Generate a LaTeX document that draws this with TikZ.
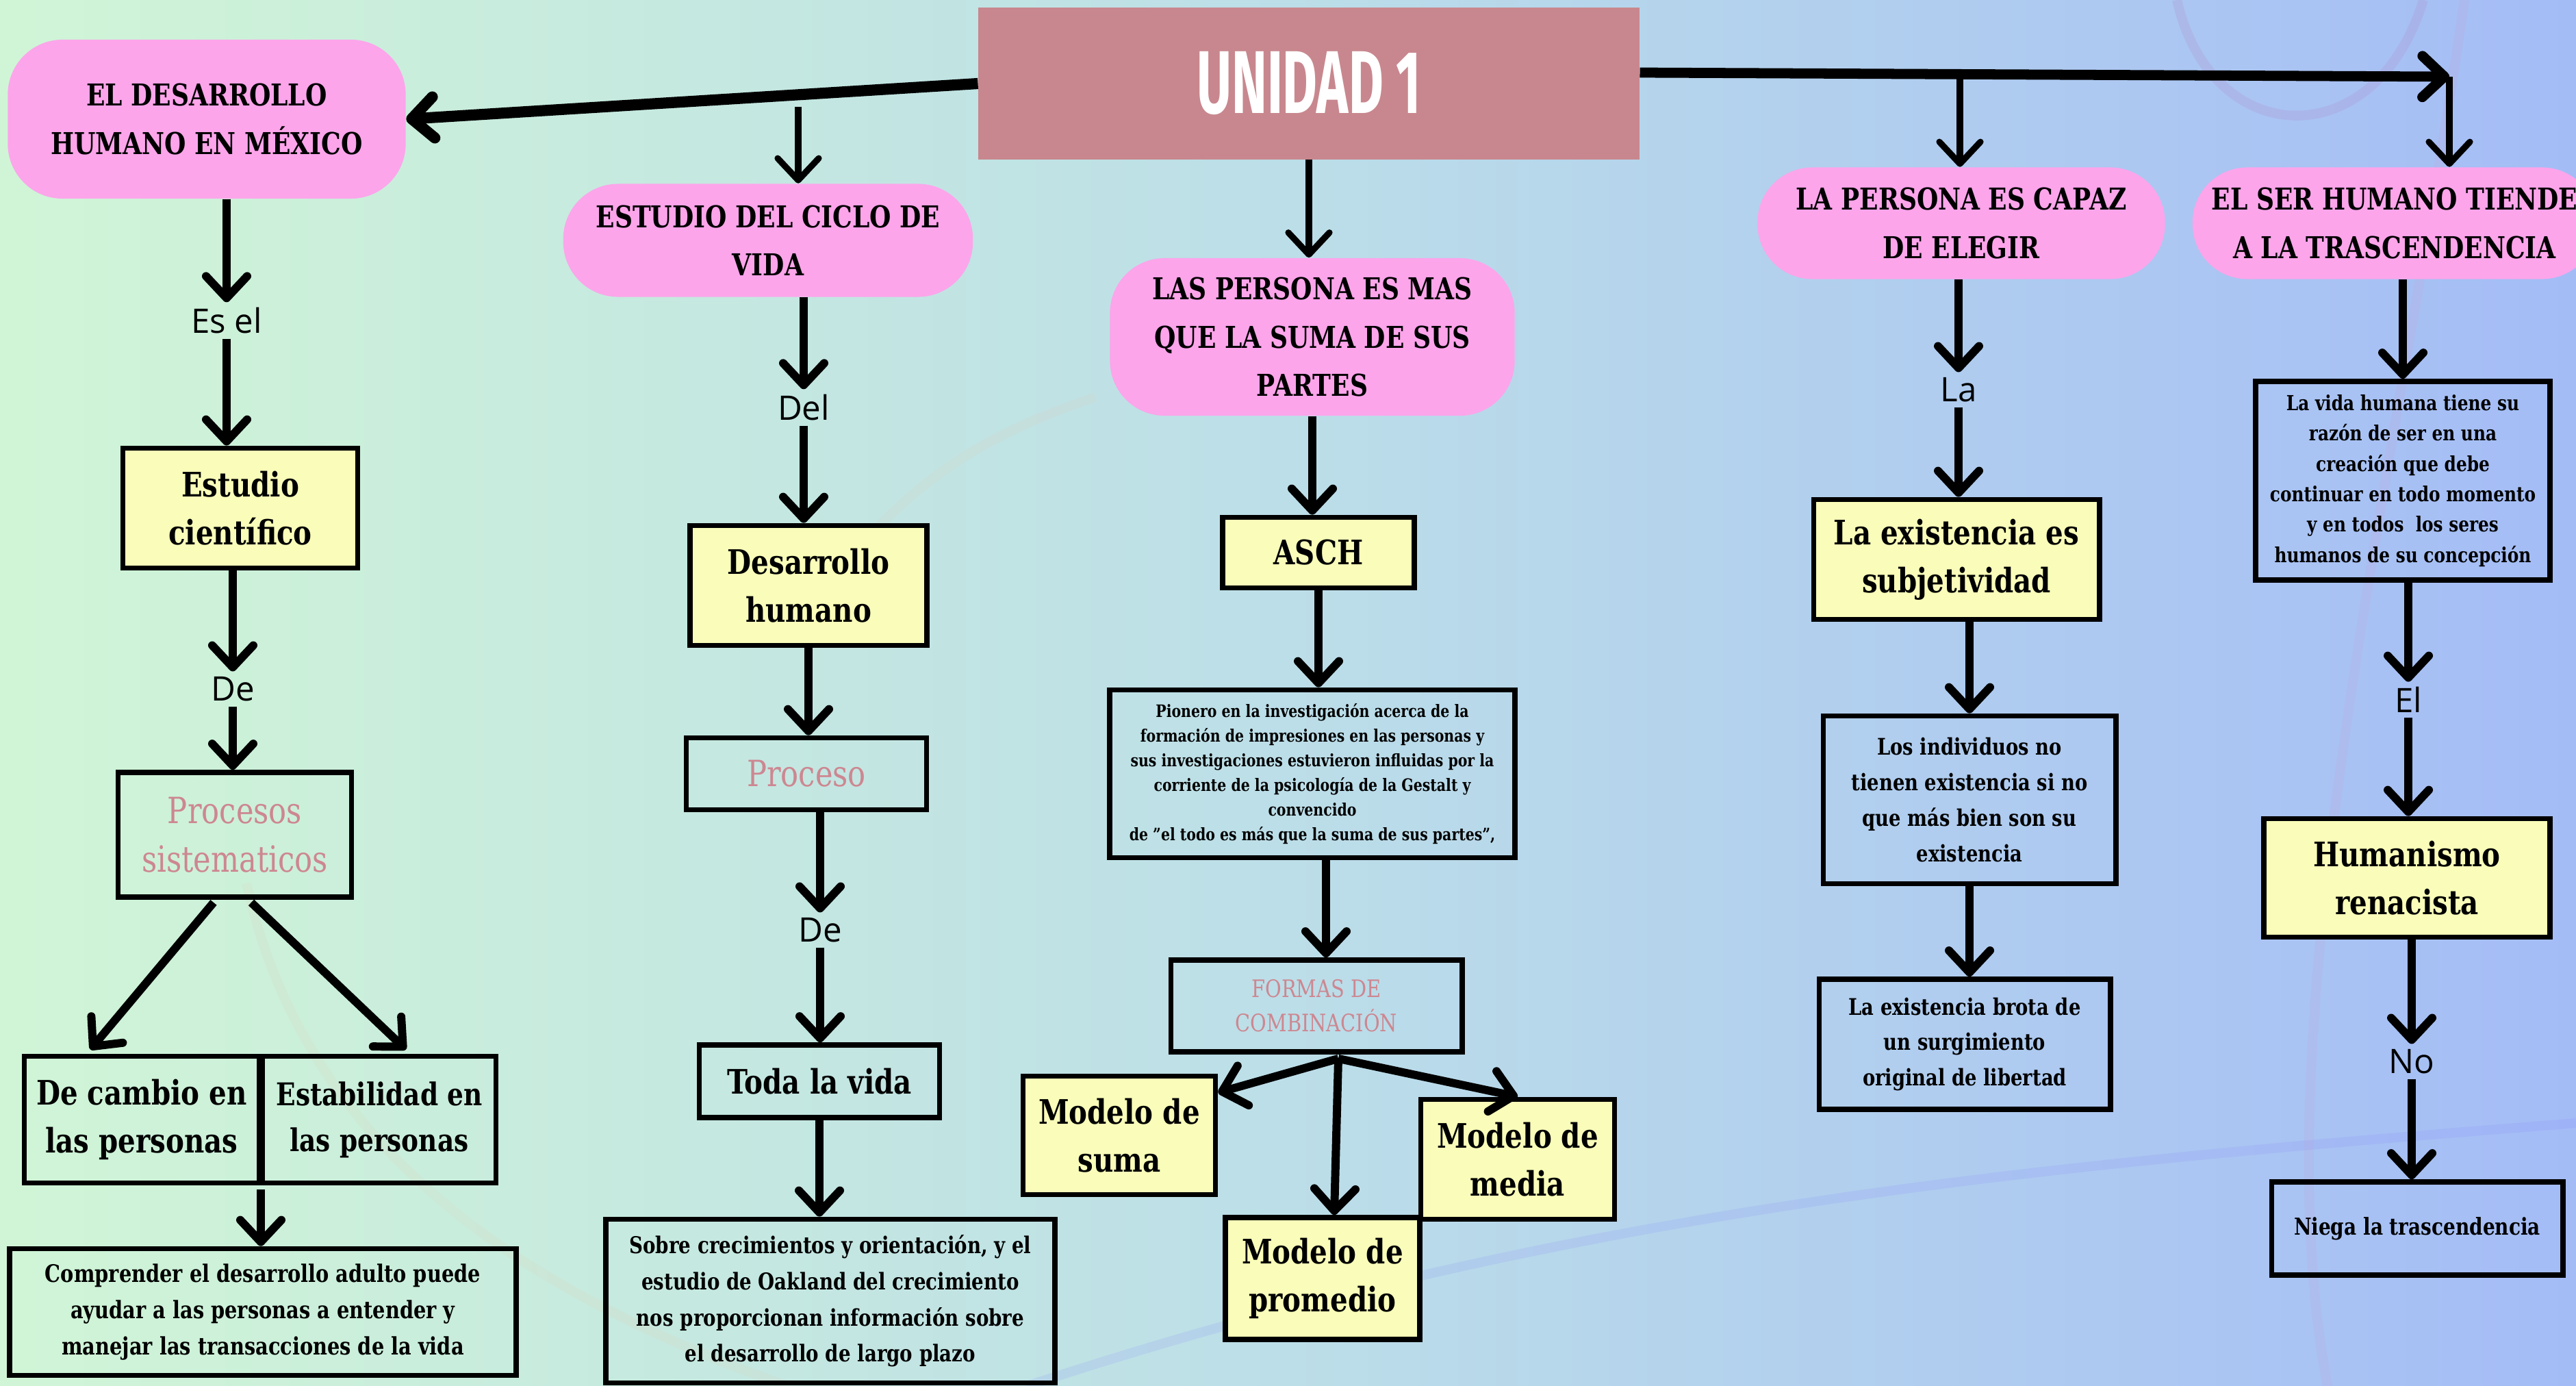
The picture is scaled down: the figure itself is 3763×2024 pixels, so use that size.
\documentclass[tikz,border=0pt]{standalone}
\usepackage{fontspec}
\setmainfont{DejaVu Serif}[FakeStretch=0.82]
\newfontfamily\labelfont{Open Sans}
\newfontfamily\titlefont{Fira Sans}[FakeStretch=0.6]
\usetikzlibrary{arrows.meta,calc}

\definecolor{bgleft}{RGB}{208,245,214}
\definecolor{bgmid}{RGB}{188,222,232}
\definecolor{bgright}{RGB}{164,188,246}
\definecolor{pillpink}{RGB}{252,165,235}
\definecolor{unidadrose}{RGB}{200,135,142}
\definecolor{boxyellow}{RGB}{249,253,185}
\definecolor{rosetext}{RGB}{205,135,145}

\tikzset{
    pill/.style={fill=pillpink, rounded corners=0.8cm, align=center, inner sep=0pt,
        font=\bfseries\fontsize{12.5}{20}\selectfont},
    ybox/.style={draw=black, line width=2.2pt, fill=boxyellow, align=center, inner sep=0pt,
        font=\bfseries\fontsize{14}{20}\selectfont},
    tbox/.style={draw=black, line width=2.2pt, align=center, inner sep=0pt},
    lbl/.style={font=\labelfont\fontsize{14}{16}\selectfont, inner sep=2pt},
    arr/.style={line width=3.4pt, -{Straight Barb[length=3.2mm,width=6mm,round]}},
    deco/.style={line width=4pt, opacity=0.14}
}

\begin{document}
\begin{tikzpicture}[x=0.01cm,y=-0.01cm]
            \useasboundingbox (0,0) rectangle (3763,2024);
            \clip (0,0) rectangle (3763,2024);
            % Background
            \shade[left color=bgleft, right color=bgmid] (0,0) rectangle (1880,2024);
            \shade[left color=bgmid, right color=bgright] (1880,0) rectangle (3763,2024);
            \draw[deco, brown!40] (360,1290) .. controls (450,1700) and (800,1900) .. (1150,2024);
            \draw[deco, brown!40] (1180,900) .. controls (1300,720) and (1420,640) .. (1600,580);
            \draw[deco, blue!50] (1500,2024) .. controls (2300,1760) and (3000,1700) .. (3763,1640);
            \draw[deco, violet!60] (3180,0) .. controls (3230,220) and (3470,230) .. (3540,0);
            \draw[deco, violet!40] (3600,0) .. controls (3500,700) and (3300,1500) .. (3400,2024);
            % Title
            \node[fill=unidadrose, minimum width=9.65cm, minimum height=2.21cm, text=white,
                font=\titlefont\bfseries\fontsize{37}{40}\selectfont] (unidad) at (1912,122) {UNIDAD 1};
            % Main topics
            \node[pill, minimum width=5.81cm, minimum height=2.32cm] (desmex) at (302,174) {EL DESARROLLO\\HUMANO EN MÉXICO};
            \node[pill, minimum width=5.98cm, minimum height=1.65cm] (ciclo) at (1122,351) {ESTUDIO DEL CICLO DE\\VIDA};
            \node[pill, minimum width=5.91cm, minimum height=2.30cm] (partes) at (1917,492) {LAS PERSONA ES MAS\\QUE LA SUMA DE SUS\\PARTES};
            \node[pill, minimum width=5.95cm, minimum height=1.63cm] (elegir) at (2865,326) {LA PERSONA ES CAPAZ\\DE ELEGIR};
            \node[pill, minimum width=5.90cm, minimum height=1.63cm] (trasc) at (3498,326) {EL SER HUMANO TIENDE\\A LA TRASCENDENCIA};
            % Arrows from the title
            \draw[arr, line width=4.6pt] (unidad.west) -- (desmex.east);
            \coordinate (brL) at (1166,156);
            \draw[arr, line width=2.6pt] (brL) -- (brL |- ciclo.north);
            \draw[arr, line width=2.6pt] (unidad.south) -- (unidad.south |- partes.north);
            \coordinate (tipR) at (3578,112);
            \draw[arr, line width=4.2pt] ($(unidad.east)+(0,-16)$) -- (tipR);
            \coordinate (brR) at (2863,106);
            \draw[arr, line width=2.6pt] (brR) -- (brR |- elegir.north);
            \draw[arr, line width=2.6pt] (tipR) -- (tipR |- trasc.north);
            % Desarrollo humano en Mexico
            \node[lbl] (esel) at (331,468) {Es el};
            \node[ybox, minimum width=3.43cm, minimum height=1.75cm] (cient) at (351,742) {Estudio\\científico};
            \node[lbl] (de1) at (340,1006) {De};
            \node[tbox, text=rosetext, minimum width=3.41cm, minimum height=1.82cm,
                font=\fontsize{15}{20}\selectfont] (procesos) at (343,1219) {Procesos\\sistematicos};
            \node[tbox, minimum width=3.43cm, minimum height=1.85cm,
                font=\bfseries\fontsize{14}{20}\selectfont] (cambio) at (207,1635) {De cambio en\\las personas};
            \node[tbox, minimum width=3.41cm, minimum height=1.85cm,
                font=\bfseries\fontsize{13}{19}\selectfont] (estab) at (554,1635) {Estabilidad en\\las personas};
            \node[tbox, minimum width=7.40cm, minimum height=1.85cm,
                font=\bfseries\fontsize{10}{15}\selectfont] (compr) at (384,1916) {Comprender el desarrollo adulto puede\\ayudar a las personas a entender y\\manejar las transacciones de la vida};
            \draw[arr] (esel.north |- desmex.south) -- (esel.north);
            \draw[arr] (esel.south) -- (esel.south |- cient.north);
            \draw[arr] (de1.north |- cient.south) -- (de1.north);
            \draw[arr] (de1.south) -- (de1.south |- procesos.north);
            \draw[arr] ($(procesos.south)+(-31,4)$) -- ($(cambio.north)+(-75,-6)$);
            \draw[arr] ($(procesos.south)+(24,4)$) -- ($(estab.north)+(39,-6)$);
            \coordinate (mid1) at ($(cambio.south east)!0.5!(estab.south west)+(0,6)$);
            \draw[arr] (mid1) -- (mid1 |- compr.north);
            % Ciclo de vida
            \node[lbl] (del) at (1174,595) {Del};
            \node[ybox, minimum width=3.46cm, minimum height=1.75cm] (deshum) at (1181,855) {Desarrollo\\humano};
            \node[tbox, text=rosetext, minimum width=3.51cm, minimum height=1.05cm,
                font=\fontsize{15}{20}\selectfont] (proceso) at (1178,1130) {Proceso};
            \node[lbl] (de2) at (1198,1358) {De};
            \node[tbox, minimum width=3.51cm, minimum height=1.06cm,
                font=\bfseries\fontsize{14}{20}\selectfont] (toda) at (1197,1579) {Toda la vida};
            \node[tbox, minimum width=6.55cm, minimum height=2.39cm,
                font=\bfseries\fontsize{9.6}{15}\selectfont] (sobre) at (1213,1900) {Sobre crecimientos y orientación, y el\\estudio de Oakland del crecimiento\\nos proporcionan información sobre\\el desarrollo de largo plazo};
            \draw[arr] (del.north |- ciclo.south) -- (del.north);
            \draw[arr] (del.south) -- (del.south |- deshum.north);
            \draw[arr] (deshum.south) -- (deshum.south |- proceso.north);
            \draw[arr] (de2.north |- proceso.south) -- (de2.north);
            \draw[arr] (de2.south) -- (de2.south |- toda.north);
            \draw[arr] (toda.south) -- (toda.south |- sobre.north);
            % Suma de sus partes
            \node[ybox, minimum width=2.80cm, minimum height=1.03cm] (asch) at (1926,807) {ASCH};
            \node[tbox, minimum width=5.91cm, minimum height=2.45cm,
                font=\bfseries\fontsize{7.1}{10.2}\selectfont] (pionero) at (1917,1130) {Pionero en la investigación acerca de la\\formación de impresiones en las personas y\\sus investigaciones estuvieron influidas por la\\corriente de la psicología de la Gestalt y\\convencido\\de "el todo es más que la suma de sus partes",};
            \node[tbox, text=rosetext, minimum width=4.25cm, minimum height=1.34cm,
                font=\fontsize{10}{14.3}\selectfont] (formas) at (1923,1469) {FORMAS DE\\COMBINACIÓN};
            \node[ybox, minimum width=2.81cm, minimum height=1.73cm] (msuma) at (1635,1658) {Modelo de\\suma};
            \node[ybox, minimum width=2.84cm, minimum height=1.78cm] (mprom) at (1932,1867) {Modelo de\\promedio};
            \node[ybox, minimum width=2.83cm, minimum height=1.75cm] (mmedia) at (2217,1693) {Modelo de\\media};
            \draw[arr] (partes.south) -- (partes.south |- asch.north);
            \draw[arr] (asch.south) -- (asch.south |- pionero.north);
            \draw[arr] ($(pionero.south)+(20,0)$) -- ($(pionero.south |- formas.north)+(20,0)$);
            \coordinate (fork) at ($(formas.south)+(32,6)$);
            \draw[arr] (fork) -- ($(msuma.north east)+(0,28)$);
            \draw[arr] (fork) -- ($(mprom.north)+(17,0)$);
            \draw[arr] (fork) -- (mmedia.north);
            % Capaz de elegir
            \node[lbl] (la) at (2861,569) {La};
            \node[ybox, minimum width=4.17cm, minimum height=1.75cm] (exist) at (2858,817) {La existencia es\\subjetividad};
            \node[tbox, minimum width=4.27cm, minimum height=2.45cm,
                font=\bfseries\fontsize{9.5}{14.7}\selectfont] (indiv) at (2877,1168) {Los individuos no\\tienen existencia si no\\que más bien son su\\existencia};
            \node[tbox, minimum width=4.25cm, minimum height=1.90cm,
                font=\bfseries\fontsize{9.5}{14.7}\selectfont] (brota) at (2870,1525) {La existencia brota de\\un surgimiento\\original de libertad};
            \draw[arr] (la.north |- elegir.south) -- (la.north);
            \draw[arr] (la.south) -- (la.south |- exist.north);
            \draw[arr] (indiv.north |- exist.south) -- (indiv.north);
            \draw[arr] (indiv.south) -- (indiv.south |- brota.north);
            % Trascendencia
            \node[tbox, minimum width=4.30cm, minimum height=2.90cm,
                font=\bfseries\fontsize{8.6}{12.6}\selectfont] (vida) at (3510,702) {La vida humana tiene su\\razón de ser en una\\creación que debe\\continuar en todo momento\\y en todos\ \ los seres\\humanos de su concepción};
            \node[lbl] (el) at (3518,1022) {El};
            \node[ybox, minimum width=4.18cm, minimum height=1.73cm] (human) at (3516,1282) {Humanismo\\renacista};
            \node[lbl] (no) at (3523,1550) {No};
            \node[tbox, minimum width=4.25cm, minimum height=1.36cm,
                font=\bfseries\fontsize{9.7}{14}\selectfont] (niega) at (3531,1794) {Niega la trascendencia};
            \draw[arr] (vida.north |- trasc.south) -- (vida.north);
            \draw[arr] (el.north |- vida.south) -- (el.north);
            \draw[arr] (el.south) -- (el.south |- human.north);
            \draw[arr] (no.north |- human.south) -- (no.north);
            \draw[arr] (no.south) -- (no.south |- niega.north);
        \end{tikzpicture}
\end{document}
